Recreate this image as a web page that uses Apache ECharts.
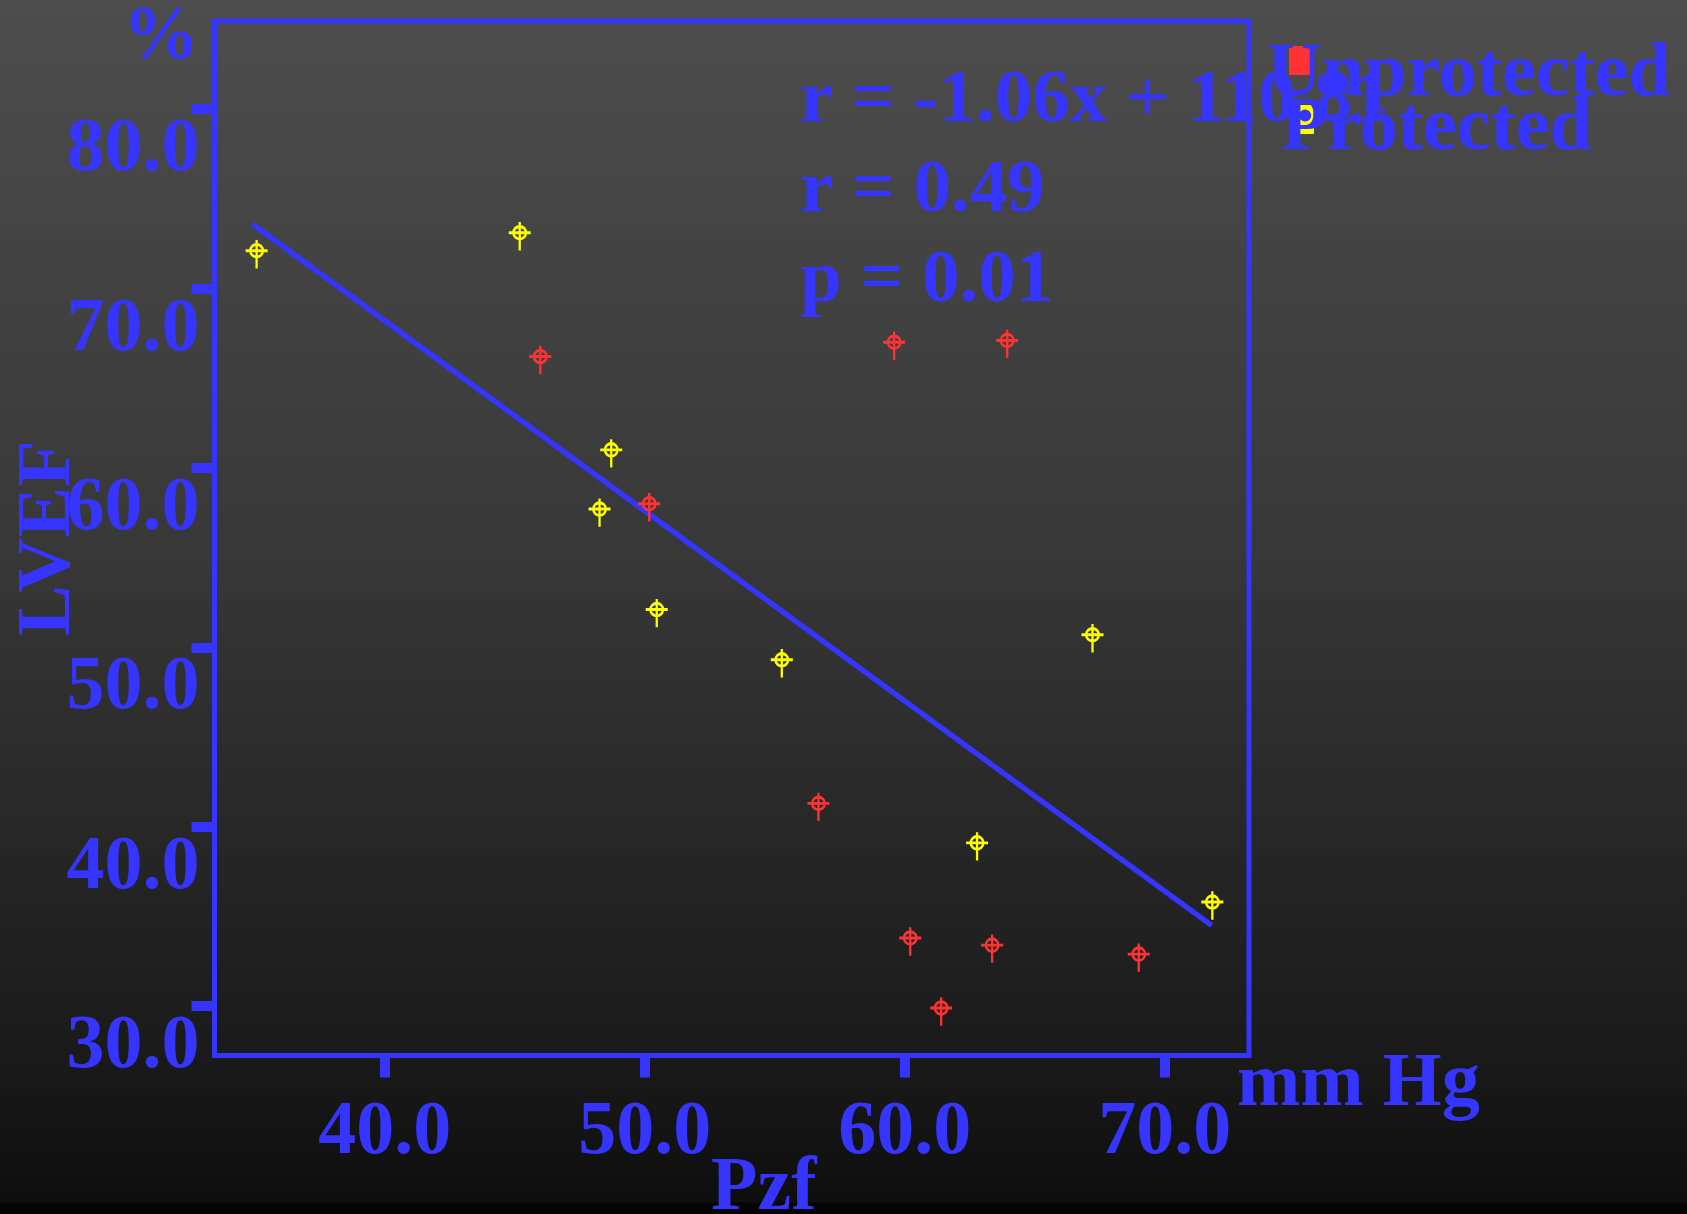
<!DOCTYPE html>
<html>
<head>
<meta charset="utf-8">
<script src="https://cdn.jsdelivr.net/npm/echarts@6/dist/echarts.min.js"></script>
<style>
  html, body { margin: 0; padding: 0; background: #000; }
  #chart { width: 1687px; height: 1214px; }
</style>
</head>
<body>
<div id="chart"></div>
<script>
// Pzf (mm Hg) vs LVEF (%) per group
const unprotected = [
  [45.98, 66.2], [50.17, 58.0], [59.59, 67.0], [63.94, 67.1], [56.68, 41.3],
  [60.21, 33.8], [63.36, 33.4], [61.4, 29.9], [69.0, 32.9]
];
const protectedPts = [
  [35.07, 72.1], [45.19, 73.1], [48.71, 61.0], [48.26, 57.7], [50.46, 52.1],
  [55.27, 49.3], [67.22, 50.7], [62.78, 39.1], [71.83, 35.8]
];
// fitted regression line, end points
const fitLine = [[34.9, 73.6], [71.8, 34.5]];

const xTicks = [40, 50, 60, 70];
const yTicks = [30, 40, 50, 60, 70, 80];
const statsText = ['r = -1.06x + 110.81', 'r = 0.49', 'p = 0.01'];

const BLUE = '#3535ff';
const FONT = 'Liberation Serif';
const FS = 76;

// crosshair marker: ring with cross arms, longer lower whisker
const MARK = 'path://M-11,0L11,0M0,-10.7L0,17.7M6.3,0A6.3,6.3,0,1,1,-6.3,0A6.3,6.3,0,1,1,6.3,0';

const chart = echarts.init(document.getElementById('chart'), null, { renderer: 'canvas' });

const txt = (extra) => Object.assign({
  color: BLUE, fontFamily: FONT, fontWeight: 'bold', fontSize: FS
}, extra || {});

chart.setOption({
  animation: false,
  backgroundColor: {
    type: 'linear', x: 0, y: 0, x2: 0, y2: 1,
    colorStops: [
      { offset: 0, color: '#4d4d4d' },
      { offset: 0.45, color: '#383838' },
      { offset: 0.87, color: '#1a1a1a' },
      { offset: 0.99, color: '#0e0e0e' },
      { offset: 0.991, color: '#050505' },
      { offset: 1, color: '#050505' }
    ]
  },
  title: [
    { text: statsText.join('\n'), left: 800, top: 57, padding: 0,
      textStyle: txt({ fontSize: 75, lineHeight: 90 }) },
    { text: '%', left: 123, top: 0, padding: 0, textStyle: txt() },
    { text: 'mm Hg', left: 1237, top: 1047, padding: 0, textStyle: txt() },
    { text: 'Pzf', left: 711, top: 1151, padding: 0, textStyle: txt() }
  ],
  legend: [
    {
      orient: 'vertical', left: 1289, top: 46, padding: 0,
      itemWidth: 23, itemHeight: 27, itemGap: 30, icon: 'rect',
      formatter: () => '',
      data: [
        { name: 'Unprotected', itemStyle: { color: '#ff3333' } },
        { name: 'Protected', itemStyle: { color: '#ffff00' } }
      ]
    },
    {
      orient: 'vertical', left: 1262, top: 37, padding: 0,
      itemWidth: 0, itemHeight: 0, itemGap: -22, icon: 'none',
      formatter: (n) => n === 'Protected' ? '{p|' + n + '}' : '{u|' + n + '}',
      textStyle: txt({
        rich: {
          u: txt(),
          p: txt({ padding: [0, 0, 0, 14] })
        }
      }),
      data: ['Unprotected', 'Protected']
    }
  ],
  grid: {
    left: 214.5, right: 438, top: 21, bottom: 158.5,
    containLabel: false, outerBoundsMode: 'none',
    show: true, borderColor: BLUE, borderWidth: 5, backgroundColor: 'transparent'
  },
  xAxis: {
    type: 'value', min: 33.45, max: 73.24,
    splitLine: { show: false },
    axisLine: { lineStyle: { color: BLUE, width: 5 } },
    axisTick: { customValues: xTicks, length: 22, inside: false, lineStyle: { color: BLUE, width: 10 } },
    axisLabel: {
      customValues: xTicks, margin: 40,
      formatter: (v) => v.toFixed(1),
      ...txt()
    }
  },
  yAxis: {
    type: 'value', min: 27.25, max: 84.9,
    splitLine: { show: false },
    name: 'LVEF', nameLocation: 'middle', nameRotate: 90, nameGap: 127,
    nameMoveOverlap: false,
    nameTextStyle: txt(),
    axisLine: { lineStyle: { color: BLUE, width: 5 } },
    axisTick: { customValues: yTicks, length: 23, inside: false, lineStyle: { color: BLUE, width: 10 } },
    axisLabel: {
      customValues: yTicks, margin: 15,
      verticalAlign: 'top',
      formatter: (v) => v.toFixed(1),
      ...txt({ lineHeight: 83 })
    }
  },
  series: [
    {
      name: 'Regression', type: 'line', data: fitLine,
      symbol: 'none', silent: true, z: 1,
      lineStyle: { color: BLUE, width: 5.5 }
    },
    {
      name: 'Unprotected', type: 'scatter', data: unprotected, z: 3,
      symbol: MARK, symbolSize: [22, 28.4], symbolOffset: [0, 3.5],
      itemStyle: { color: 'transparent', borderColor: '#ff3333', borderWidth: 2.6, opacity: 1 }
    },
    {
      name: 'Protected', type: 'scatter', data: protectedPts, z: 3,
      symbol: MARK, symbolSize: [22, 28.4], symbolOffset: [0, 3.5],
      itemStyle: { color: 'transparent', borderColor: '#ffff00', borderWidth: 2.6, opacity: 1 }
    }
  ]
});
</script>
</body>
</html>
